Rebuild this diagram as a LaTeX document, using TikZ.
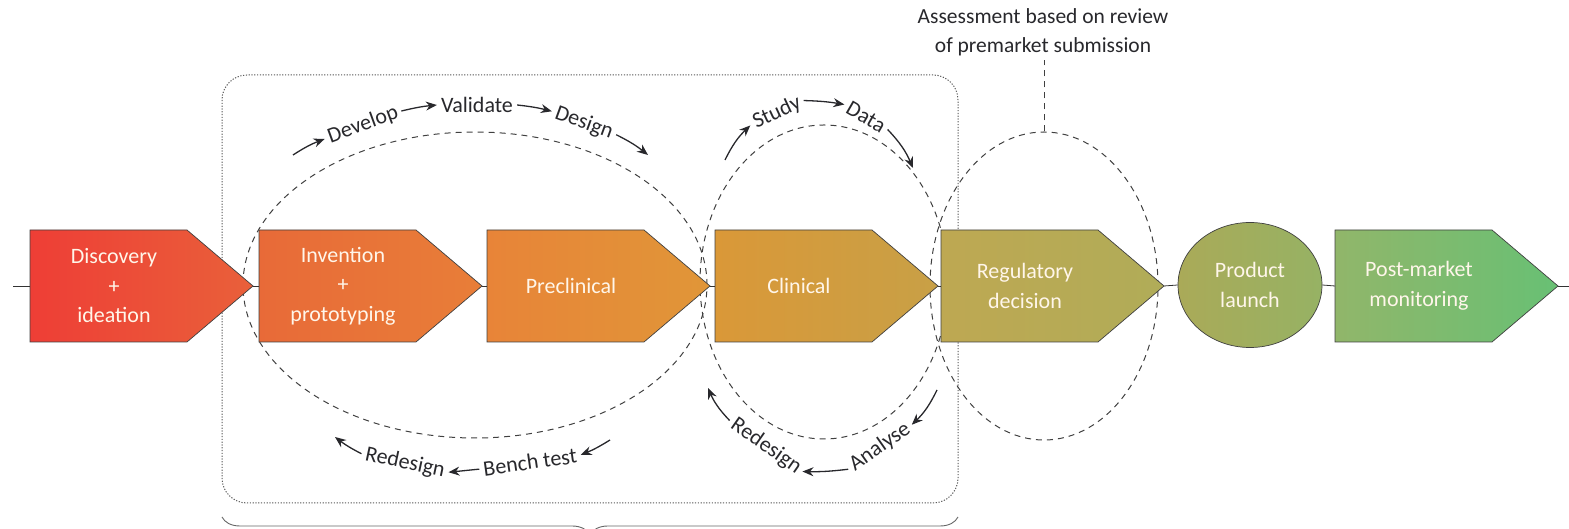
\documentclass[tikz,border=0pt]{standalone}
\usepackage{fontspec}
\setmainfont{Carlito}
\usetikzlibrary{shapes.geometric,decorations.pathreplacing,arrows.meta}

% colour ramp along the pipeline, red to green
\definecolor{r0}{RGB}{238,62,54}
\definecolor{r1}{RGB}{233,96,58}
\definecolor{r2}{RGB}{232,106,56}
\definecolor{r3}{RGB}{232,126,56}
\definecolor{r4}{RGB}{232,132,56}
\definecolor{r5}{RGB}{224,150,56}
\definecolor{r6}{RGB}{218,152,56}
\definecolor{r7}{RGB}{200,160,70}
\definecolor{r8}{RGB}{190,168,82}
\definecolor{r9}{RGB}{176,172,88}
\definecolor{r10}{RGB}{170,170,88}
\definecolor{r11}{RGB}{150,178,100}
\definecolor{r12}{RGB}{145,182,106}
\definecolor{r13}{RGB}{104,192,116}
\definecolor{labeltext}{RGB}{255,246,234}
\definecolor{ink}{RGB}{40,40,44}

\tikzset{
  axisline/.style={draw=black!80, line width=0.8pt},
  stagefill/.style={draw=black!75, line width=0.7pt},
  stagetext/.style={text=labeltext, font=\fontsize{22}{29.5}\selectfont, align=center},
  cycleoval/.style={ellipse, draw=black!75, dash pattern=on 6pt off 5pt, line width=1pt, inner sep=0pt},
  cycleline/.style={draw=black!75, dash pattern=on 6pt off 5pt, line width=1pt},
  steplabel/.style={text=ink, font=\fontsize{22}{26}\selectfont, inner sep=4pt},
  flow/.style={-{Stealth[length=11pt,width=9pt]}, line width=1.3pt, draw=ink},
}

% name, left x, left colour, right colour, label
\newcommand\stage[5]{%
  \path[stagefill, left color=#3, right color=#4]
    (#2,299) -- ++(157,0) -- ++(66,-56) -- ++(-66,-56) -- ++(-157,0) -- cycle;
  \node[stagetext] (#1) at (#2+84,243) {#5};
  \coordinate (#1-in) at (#2,243);
  \coordinate (#1-out) at (#2+223,243);
}

\begin{document}
\begin{tikzpicture}[x=1pt,y=1pt]
\useasboundingbox (0,0) rectangle (1569,529);

% dotted frame around the development phase and its brace
\node[draw=black!65, dash pattern=on 1.2pt off 1.6pt, line width=1pt,
      rounded corners=25pt, minimum width=736pt, minimum height=428pt,
      inner sep=0pt] (phase) at (590,240) {};
\coordinate (bl) at (222,12);
\coordinate (br) at (958,12);
\draw[draw=black!60, line width=0.9pt, decorate,
      decoration={brace, mirror, amplitude=18pt}] (bl) -- (br);

% iterative loops
\node[cycleoval, minimum width=464pt, minimum height=306pt] (e1) at (475,244) {};
\node[cycleoval, minimum width=248pt, minimum height=314pt] (e2) at (824,247) {};
\node[cycleoval, minimum width=228pt, minimum height=308pt] (e3) at (1044,243) {};

% stages
\stage{disc}{30}{r0}{r1}{Discovery\\+\\ideation}
\stage{inv}{259}{r2}{r3}{Invention\\+\\prototyping}
\stage{pre}{487}{r4}{r5}{Preclinical}
\stage{clin}{715}{r6}{r7}{Clinical}
\stage{reg}{941}{r8}{r9}{Regulatory\\decision}
\node[ellipse, draw=black!75, line width=0.7pt, left color=r10, right color=r11,
      minimum width=144pt, minimum height=125pt, inner sep=0pt, stagetext]
      (launch) at (1250,244) {Product\\launch};
\stage{post}{1335}{r12}{r13}{Post-market\\monitoring}

\coordinate (start) at (13,243);
\coordinate (finish) at (1569,243);
\draw[axisline] (start) -- (disc-in);
\draw[axisline] (disc-out) -- (inv-in);
\draw[axisline] (inv-out) -- (pre-in);
\draw[axisline] (pre-out) -- (clin-in);
\draw[axisline] (clin-out) -- (reg-in);
\draw[axisline] (reg-out) -- (launch.west);
\draw[axisline] (launch.east) -- (post-in);
\draw[axisline] (post-out) -- (finish);

% review note
\node[steplabel, align=center, font=\fontsize{21.5}{29}\selectfont] (assess) at (1043,497)
  {Assessment based on review\\of premarket submission};
\draw[cycleline] (e3.north) -- (e3.north |- assess.south);

% bench loop, top
\coordinate (c1) at (293,374);
\node[steplabel, rotate=20] (dev) at (363,404) {Develop};
\node[steplabel] (val) at (477,424) {Validate};
\node[steplabel, rotate=-20] (des) at (584,406) {Design};
\coordinate (c2) at (648,374);
\draw[flow] (c1) to[bend left=6] (dev.west);
\draw[flow] (dev.east) to[bend left=4] (val.west);
\draw[flow] (val.east) to[bend left=4] (des.west);
\draw[flow] (des.east) to[bend left=6] (c2);

% bench loop, bottom
\coordinate (c5) at (610,89);
\node[steplabel, rotate=8] (ben) at (530,67) {Bench test};
\node[steplabel, rotate=-12] (red1) at (405,66) {Redesign};
\coordinate (c6) at (335,92);
\draw[flow] (c5) to[bend left=5] (ben.east);
\draw[flow] (ben.west) to (red1.east);
\draw[flow] (red1.west) to[bend left=5] (c6);

% clinical loop, top
\coordinate (c3) at (725,369);
\node[steplabel, rotate=25] (stu) at (777,416) {Study};
\node[steplabel, rotate=-30] (dat) at (866,412) {Data};
\coordinate (c4) at (913,361);
\draw[flow] (c3) to[bend left=10] (stu.west);
\draw[flow] (stu.east) to[bend left=4] (dat.west);
\draw[flow] (dat.east) to[bend left=10] (c4);

% clinical loop, bottom
\coordinate (c7) at (937,139);
\node[steplabel, rotate=35] (ana) at (880,82) {Analyse};
\node[steplabel, rotate=-35] (red2) at (766,83) {Redesign};
\coordinate (c8) at (708,141);
\draw[flow] (c7) to[bend left=10] (ana.east);
\draw[flow] (ana.west) to[bend left=4] (red2.east);
\draw[flow] (red2.west) to[bend left=10] (c8);
\end{tikzpicture}
\end{document}
